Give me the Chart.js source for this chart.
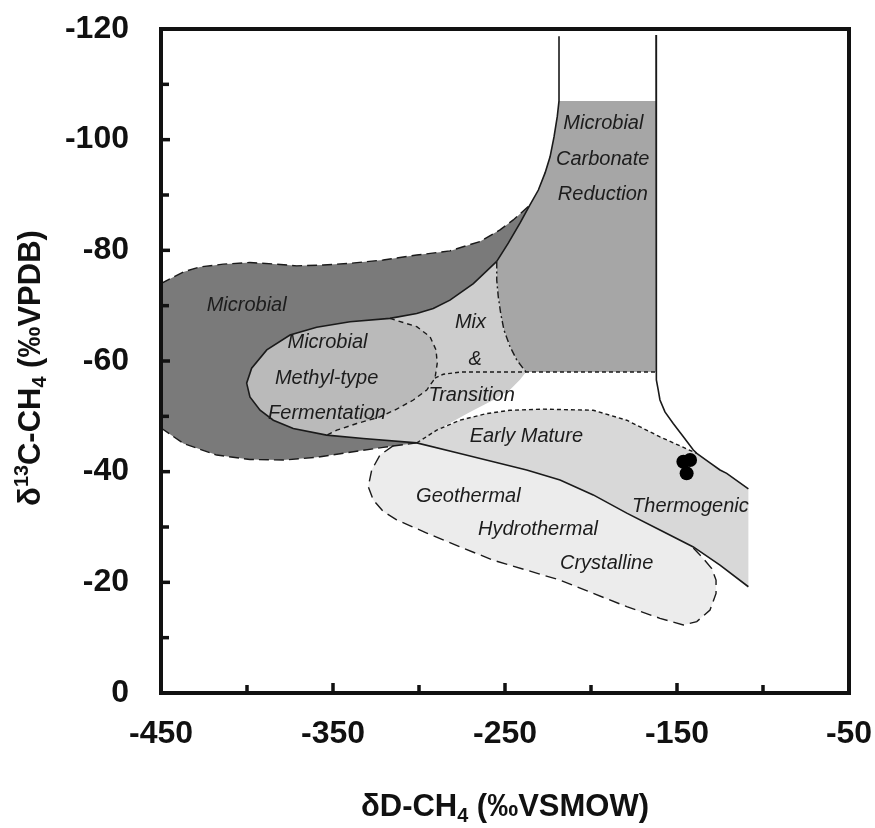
<!DOCTYPE html>
<html><head><meta charset="utf-8">
<script src="https://cdn.jsdelivr.net/npm/chart.js@4/dist/chart.umd.min.js"></script>
<style>html,body{margin:0;padding:0;background:#fff;}#wrap{width:875px;height:828px;}</style>
</head><body><div id="wrap"><canvas id="c" width="875" height="828"></canvas></div>
<script>
// ---------- axis tick labels ----------
const xTickLabels = [-450, -350, -250, -150, -50];
const yTickLabels = [-120, -100, -80, -60, -40, -20, 0];

// ---------- field boundaries (δD, δ13C) ----------
const co2Left = [[-218.6,-118.7],[-218.6,-113.9],[-218.6,-108.4],[-218.6,-107.0],[-219.6,-104.2],[-221.5,-100.5],[-223.8,-96.9],[-226.7,-94.0],[-230.6,-90.9],[-235.5,-88.2],[-241.3,-84.9],[-248.1,-81.3],[-254.8,-78.0]];
const co2Right = [[-162.2,-118.9],[-162.2,-58.0],[-161.8,-56.6],[-160.9,-54.75],[-159.9,-52.95],[-157.0,-50.8],[-152.2,-48.7],[-146.3,-46.3],[-140.5,-43.9],[-138.5,-43.3]];
const thermoRight = [[-138.5,-43.3],[-130.8,-41.6],[-125.0,-40.3],[-121.1,-39.7],[-108.5,-36.9]];
const co2Bottom = [[-290.7,-56.9],[-285.9,-57.6],[-276.0,-58.0],[-162.2,-58.0]];
const mixRight = [[-254.8,-78.0],[-254.8,-74.6],[-253.9,-71.6],[-252.5,-68.6],[-250.6,-65.6],[-247.1,-62.6],[-243.2,-60.2],[-237.8,-58.0]];
const darkTop = [[-450,-74.0],[-437.0,-76.1],[-427.3,-77.0],[-413.8,-77.5],[-398.3,-77.8],[-382.7,-77.5],[-371.1,-77.2],[-355.6,-77.35],[-340.1,-77.65],[-320.8,-78.25],[-301.3,-79.15],[-282.0,-79.9],[-264.5,-81.6],[-252.9,-83.7],[-245.2,-85.5],[-235.5,-88.2]];
const darkInner = [[-254.8,-78.0],[-268.4,-74.0],[-282.0,-71.0],[-291.7,-69.5],[-301.3,-68.6],[-316.9,-67.7],[-340.1,-67.1],[-359.5,-66.1],[-375.0,-64.7],[-388.5,-62.0],[-397.3,-58.7],[-400.2,-56.0],[-398.3,-53.5],[-392.4,-51.1],[-384.7,-49.3],[-373.1,-47.8],[-353.7,-46.6],[-332.4,-46.0],[-301.3,-45.2]];
const darkBottom = [[-450,-47.9],[-437.0,-45.1],[-417.6,-43.0],[-398.3,-42.2],[-378.9,-42.1],[-359.5,-42.6],[-340.1,-43.5],[-320.8,-44.4],[-301.3,-45.2]];
const ellipseRight = [[-316.9,-67.7],[-301.3,-66.2],[-293.6,-64.4],[-290.1,-62.0],[-289.4,-59.6],[-290.7,-56.9],[-295.5,-54.75],[-303.3,-52.95],[-313.0,-51.3],[-322.7,-49.9],[-336.2,-48.7],[-347.8,-47.5],[-353.7,-46.6]];
const mixBottom = [[-237.8,-58.0],[-241.3,-56.6],[-247.1,-54.8],[-256.8,-52.95],[-270.3,-50.8],[-285.9,-48.1],[-301.3,-45.2]];
const emTop = [[-301.3,-45.2],[-289.7,-47.5],[-276.2,-49.3],[-260.6,-50.5],[-247.1,-51.1],[-227.7,-51.3],[-198.7,-51.1],[-179.2,-49.3],[-159.9,-46.3],[-138.5,-43.3]];
const thermoLow = [[-301.3,-45.2],[-276.2,-43.3],[-256.8,-41.8],[-237.4,-40.3],[-218.0,-38.5],[-198.7,-35.8],[-179.2,-32.5],[-159.9,-29.45],[-140.5,-26.4],[-125.0,-23.1],[-108.5,-19.2]];
const geoEdge = [[-314.9,-44.7],[-322.7,-43.0],[-327.5,-40.3],[-329.5,-37.3],[-326.6,-34.9],[-320.8,-32.8],[-313.0,-31.3],[-295.5,-28.9],[-276.2,-26.4],[-256.8,-24.0],[-237.4,-22.2],[-218.0,-20.4],[-198.7,-18.0],[-179.2,-15.6],[-159.9,-13.5],[-146.3,-12.3],[-138.5,-12.9],[-130.8,-15.0],[-127.3,-18.0],[-127.3,-20.4],[-129.8,-22.5],[-134.7,-24.3],[-140.5,-26.2]];
const co2FillTop = -107.0;

// ---------- sample points ----------
const sampleD = [-146.3, -142.4, -144.4];
const sampleC = [-41.8, -42.1, -39.7];

// ---------- field labels ----------
const fieldLabels = [
  ['Microbial', -400.2, -70.1], ['Microbial', -353.2, -63.3], ['Methyl-type', -353.7, -56.9], ['Fermentation', -353.5, -50.5],
  ['Mix', -270.1, -66.9], ['&', -267.4, -60.3], ['Transition', -269.4, -53.85],
  ['Early Mature', -237.6, -46.4], ['Thermogenic', -142.2, -33.8],
  ['Geothermal', -271.3, -35.6], ['Hydrothermal', -230.8, -29.5], ['Crystalline', -190.9, -23.4],
  ['Microbial', -192.8, -103.0], ['Carbonate', -193.2, -96.5], ['Reduction', -193.1, -90.1]
];

// ---------- build polygons from the boundaries ----------
const rev = a => a.slice().reverse();
const toXY = a => a.map(([x, y]) => ({x, y}));
const co2Poly = [[co2Left[3][0], co2FillTop], [co2Right[0][0], co2FillTop], co2Right[1], mixRight[mixRight.length-1]]
  .concat(rev(mixRight)).concat(rev(co2Left.slice(3)));
const darkPoly = darkTop.concat(co2Left.slice(10)).concat(darkInner).concat(rev(darkBottom));
const mixPoly = darkInner.concat(rev(mixBottom)).concat(rev(mixRight));
const ellipsePoly = darkInner.slice(5, 17).concat(rev(ellipseRight));
const thermoPoly = emTop.concat(thermoRight.slice(1)).concat(rev(thermoLow));
const geoPoly = geoEdge.concat(rev(thermoLow.slice(0, 9))).concat([darkBottom[7]]);

const FONT = "'Liberation Sans', Arial, Helvetica, sans-serif";
const LINE = '#1a1a1a';
const datasets = [];
function addFill(pts, color, order) {
  datasets.push({data: toXY(pts), showLine: true, fill: 'shape', backgroundColor: color,
    borderColor: 'rgba(0,0,0,0)', borderWidth: 0, pointRadius: 0, tension: 0, order});
}
function addLine(pts, dash, width) {
  datasets.push({data: toXY(pts), showLine: true, fill: false, borderColor: LINE,
    borderWidth: width, borderDash: dash, pointRadius: 0, tension: 0, order: 2});
}
addFill(geoPoly, '#ececec', 10);
addFill(thermoPoly, '#d8d8d8', 9);
addFill(co2Poly, '#a6a6a6', 8);
addFill(mixPoly, '#cdcdcd', 7);
addFill(darkPoly, '#7a7a7a', 6);
addFill(ellipsePoly, '#bababa', 5);
addLine(co2Left, [], 1.6);
addLine(co2Right.concat(thermoRight.slice(1)), [], 1.6);
addLine(darkInner.concat(thermoLow.slice(1)), [], 1.6);
addLine(co2Bottom, [4, 3], 1.4);
addLine(mixRight, [7, 3, 2, 3], 1.4);
addLine(darkTop, [10, 5], 1.4);
addLine(darkBottom, [10, 5], 1.4);
addLine(ellipseRight, [5, 4], 1.4);
addLine(emTop, [4, 3], 1.4);
addLine(geoEdge, [11, 6], 1.4);
datasets.push({data: sampleD.map((x, i) => ({x, y: sampleC[i]})), showLine: false, fill: false,
  pointRadius: 7, pointBackgroundColor: '#000', pointBorderColor: '#000', pointBorderWidth: 0, order: 0});

// ---------- decorations ----------
function richWidth(ctx, parts, size) {
  let w = 0;
  for (const p of parts) { const s = p.s ? size * 0.64 : size; ctx.font = 'bold ' + s + 'px ' + FONT; w += ctx.measureText(p.t).width; }
  return w;
}
function drawRich(ctx, parts, size, cx, cy) {
  const w = richWidth(ctx, parts, size);
  let x = cx - w / 2;
  ctx.textBaseline = 'alphabetic'; ctx.textAlign = 'left';
  const base = cy + size * 0.36;
  for (const p of parts) {
    const s = p.s ? size * 0.64 : size;
    ctx.font = 'bold ' + s + 'px ' + FONT;
    const dy = p.s === 'sub' ? size * 0.2 : (p.s === 'sup' ? -size * 0.38 : 0);
    ctx.fillText(p.t, x, base + dy);
    x += ctx.measureText(p.t).width;
  }
}
const decor = {
  id: 'decor',
  afterDatasetsDraw(chart) {
    const {ctx, chartArea: a, scales: {x, y}} = chart;
    ctx.save();
    ctx.fillStyle = '#1c1c1c';
    ctx.font = 'italic 20px ' + FONT;
    ctx.textAlign = 'center'; ctx.textBaseline = 'middle';
    for (const [t, dx, dc] of fieldLabels) ctx.fillText(t, x.getPixelForValue(dx), y.getPixelForValue(dc));
    ctx.strokeStyle = '#111'; ctx.lineWidth = 4;
    ctx.strokeRect(a.left, a.top, a.right - a.left, a.bottom - a.top);
    ctx.lineWidth = 3.5;
    for (let v = -400; v <= -100; v += 50) {
      const px = x.getPixelForValue(v), len = xTickLabels.includes(v) ? 10 : 8;
      ctx.beginPath(); ctx.moveTo(px, a.bottom); ctx.lineTo(px, a.bottom - len); ctx.stroke();
    }
    for (let v = -110; v <= -10; v += 10) {
      const py = y.getPixelForValue(v), len = yTickLabels.includes(v) ? 9 : 8;
      ctx.beginPath(); ctx.moveTo(a.left, py); ctx.lineTo(a.left + len, py); ctx.stroke();
    }
    ctx.restore();
  },
  afterDraw(chart) {
    const {ctx, chartArea: a} = chart;
    ctx.save();
    ctx.fillStyle = '#111';
    drawRich(ctx, [{t: 'δD-CH'}, {t: '4', s: 'sub'}, {t: ' (‰VSMOW)'}], 31, (a.left + a.right) / 2, 805);
    ctx.translate(29, 368); ctx.rotate(-Math.PI / 2);
    drawRich(ctx, [{t: 'δ'}, {t: '13', s: 'sup'}, {t: 'C-CH'}, {t: '4', s: 'sub'}, {t: ' (‰VPDB)'}], 31, 0, 0);
    ctx.restore();
  }
};

new Chart(document.getElementById('c'), {
  type: 'line',
  data: {datasets},
  options: {
    responsive: false, animation: false, devicePixelRatio: 1,
    events: [],
    layout: {padding: {top: 29, right: 26, left: 0, bottom: 0}},
    plugins: {legend: {display: false}, tooltip: {enabled: false}, filler: {drawTime: 'beforeDatasetsDraw'}},
    scales: {
      x: {type: 'linear', min: -450, max: -50,
        grid: {display: false, drawTicks: false}, border: {display: false},
        ticks: {stepSize: 50, autoSkip: false, maxRotation: 0, padding: 22, color: '#111',
          font: {family: FONT, size: 32, weight: 'bold'},
          callback: v => xTickLabels.includes(v) ? String(v) : ''},
        afterFit: s => { s.height = 135; s.paddingLeft = 0; s.paddingRight = 0; }},
      y: {type: 'linear', min: -120, max: 0, reverse: true,
        grid: {display: false, drawTicks: false}, border: {display: false},
        ticks: {stepSize: 10, autoSkip: false, padding: 32, color: '#111',
          font: {family: FONT, size: 32, weight: 'bold'},
          callback: v => yTickLabels.includes(v) ? String(v) : ''},
        afterFit: s => { s.width = 161; s.paddingTop = 0; s.paddingBottom = 0; }}
    }
  },
  plugins: [decor]
});
</script>
</body></html>
